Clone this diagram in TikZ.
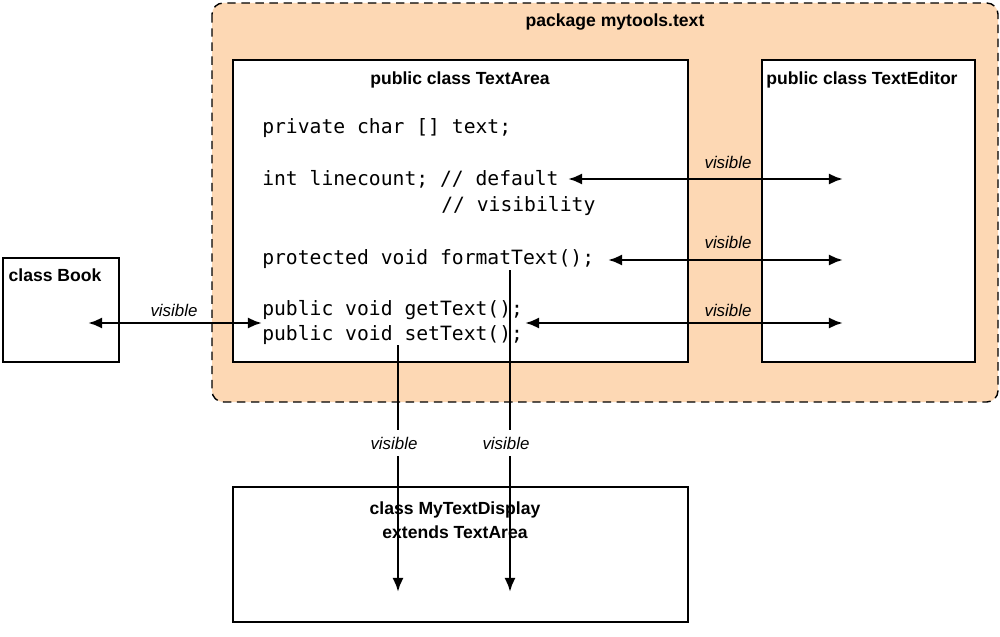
\documentclass[tikz,border=0pt]{standalone}
\usepackage{fontspec}
\setmainfont{Liberation Sans}
\setmonofont{DejaVu Sans Mono}
\usetikzlibrary{arrows.meta}
\definecolor{pkgfill}{HTML}{FDD8B4}

\begin{document}
\begin{tikzpicture}[x=0.025cm,y=-0.025cm,>={Latex[length=10pt,width=8pt]},
  box/.style={draw,line width=2pt,fill=white},
  title/.style={font=\bfseries\fontsize{12.5}{17}\selectfont},
  code/.style={anchor=base west,inner sep=0pt,font=\ttfamily\fontsize{14}{15}\selectfont},
  vis/.style={font=\itshape\fontsize{12}{14}\selectfont,inner sep=1pt},
  link/.style={<->,line width=2pt}]
\useasboundingbox (0,0) rectangle (1000,637);
\draw[dash pattern=on 6pt off 4pt,line width=1pt,fill=pkgfill,rounded corners=8pt] (212,3) rectangle (998,402);
\node[title] (pkg) at (615,22) {package mytools.text};

\draw[box] (233,60) rectangle (688,362);
\node[title] (ta) at (460,80) {public class TextArea};
\draw[box] (762,60) rectangle (975,362);
\node[title] (te) at (862,80) {public class TextEditor};
\draw[box] (3,258) rectangle (119,362);
\node[title] (bk) at (55,275) {class Book};
\draw[box] (233,487) rectangle (688,622);
\node[title,align=center] (md) at (455,520) {class MyTextDisplay\\extends TextArea};

\node[code] (c1) at (262,133) {private char [] text;};
\node[code] (c2) at (262,185) {int linecount; // default};
\node[code] (c3) at (441,211) {// visibility};
\node[code] (c4) at (262,264) {protected void formatText();};
\node[code] (c5) at (262,315) {public void getText();};
\node[code] (c6) at (262,340) {public void setText();};

\coordinate (e1) at (843,179);
\coordinate (e2) at (843,260);
\coordinate (e3) at (843,323);
\coordinate (a1) at (568,179);
\coordinate (a2) at (608,260);
\coordinate (a3) at (525,323);
\coordinate (b1) at (88,323);
\coordinate (b2) at (262,323);
\draw[link] (a1) -- (e1);
\draw[link] (a2) -- (e2);
\draw[link] (a3) -- (e3);
\draw[link] (b1) -- (b2);
\node[vis] (v1) at (728,162) {visible};
\node[vis] (v2) at (728,242) {visible};
\node[vis] (v3) at (728,310) {visible};
\node[vis] (v4) at (174,310) {visible};

\coordinate (s1) at (398,345);
\coordinate (s2) at (510,270);
\coordinate (d1) at (398,592);
\coordinate (d2) at (510,592);
\draw[->,line width=2pt] (s1) -- (d1);
\draw[->,line width=2pt] (s2) -- (d2);
\node[vis,fill=white,inner ysep=5pt] (v5) at (394,443) {visible};
\node[vis,fill=white,inner ysep=5pt] (v6) at (506,443) {visible};
\end{tikzpicture}
\end{document}
